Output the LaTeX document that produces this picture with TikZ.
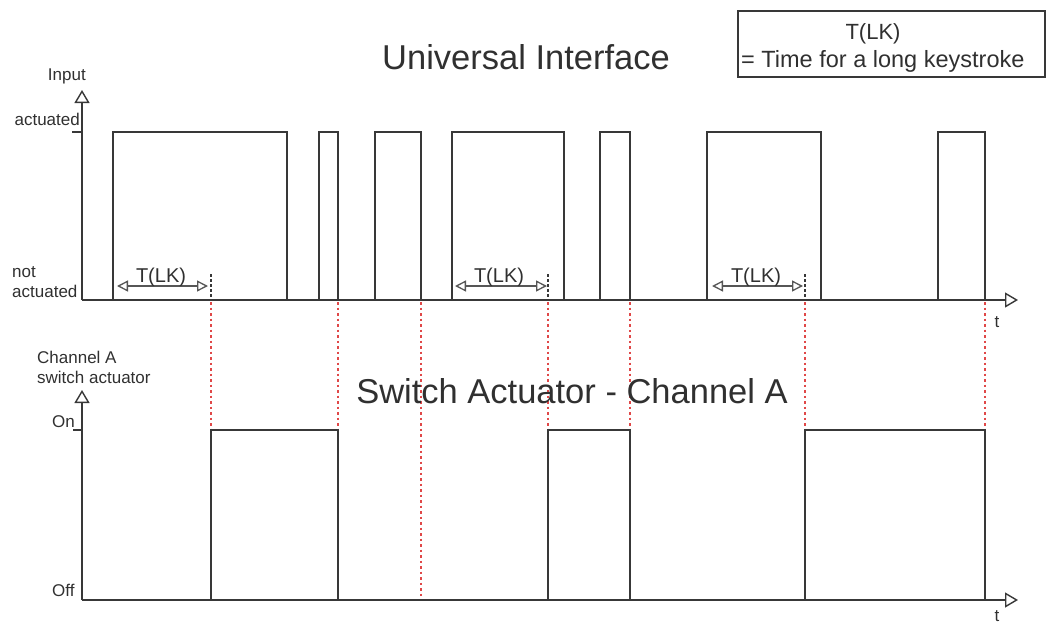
\documentclass[tikz,border=0pt]{standalone}
\usepackage{fontspec}
\setmainfont{Liberation Sans}
\usetikzlibrary{arrows.meta}
\definecolor{sigc}{HTML}{383838}
\definecolor{txtc}{HTML}{303030}
\definecolor{redc}{HTML}{E04848}
\begin{document}
\begin{tikzpicture}[x=1pt,y=-1pt,
  sig/.style={draw=sigc, line width=1.5pt, line join=miter},
  axisarrow/.style={draw=sigc, line width=1.5pt, -{Triangle[open,length=13pt,width=15pt,line width=1.4pt]}},
  tlkarrow/.style={draw=sigc!85, line width=1.3pt, {Triangle[open,length=11pt,width=11pt,line width=1.3pt]}-{Triangle[open,length=11pt,width=11pt,line width=1.3pt]}},
  reddot/.style={draw=redc, line width=1.3pt, dash pattern=on 2.5pt off 3pt},
  blackdot/.style={draw=sigc, line width=1.3pt, dash pattern=on 2.5pt off 2.5pt},
  lbl/.style={inner sep=0pt, text=txtc, font=\fontsize{17}{20}\selectfont},
  tlk/.style={inner sep=0pt, text=txtc, font=\fontsize{20}{24}\selectfont, anchor=base},
  title/.style={inner sep=0pt, text=txtc, font=\fontsize{34.5}{40}\selectfont, anchor=base},
  legbox/.style={draw=sigc, line width=1.2pt}
]
\useasboundingbox (0,0) rectangle (1046,626);

% red dotted guides
\foreach \x in {211,338,421,548,630,805,985}
  \draw[reddot] (\x,302) -- (\x,600);
% black dotted markers at T(LK) ends
\foreach \x in {211,548,805}
  \draw[blackdot] (\x,274) -- (\x,299);

% ---------- top diagram ----------
\draw[axisarrow] (82,300) -- (82,90);
\draw[axisarrow] (82,300) -- (1018,300);
\draw[sig] (72,132) -- (82,132);
\draw[sig] (113,300) -- (113,132) -- (287,132) -- (287,300)
  (319,300) -- (319,132) -- (338,132) -- (338,300)
  (375,300) -- (375,132) -- (421,132) -- (421,300)
  (452,300) -- (452,132) -- (564,132) -- (564,300)
  (600,300) -- (600,132) -- (630,132) -- (630,300)
  (707,300) -- (707,132) -- (821,132) -- (821,300)
  (938,300) -- (938,132) -- (985,132) -- (985,300);

\draw[tlkarrow] (117,286) -- (208,286);
\draw[tlkarrow] (455,286) -- (547,286);
\draw[tlkarrow] (712,286) -- (803,286);
\node[tlk] (tlk1) at (161,282) {T(LK)};
\node[tlk] (tlk2) at (499,282) {T(LK)};
\node[tlk] (tlk3) at (756,282) {T(LK)};

\node[lbl, anchor=base east] (input) at (86,80) {Input};
\node[lbl, anchor=base east] (act) at (80,125) {actuated};
\node[lbl, anchor=base west] (not) at (12,277) {not};
\node[lbl, anchor=base west] (notact) at (12,297) {actuated};
\node[lbl, anchor=base] (t1) at (997,327) {t};

\node[title] (ui) at (526,70) {Universal Interface};

% legend
\draw[legbox] (738,11) rectangle (1045,77);
\node[inner sep=0pt, text=txtc, font=\fontsize{22}{26}\selectfont, anchor=base] (leg1) at (873,40) {T(LK)};
\node[inner sep=0pt, text=txtc, font=\fontsize{23.5}{28}\selectfont, anchor=base west] (leg2) at (741,67) {= Time for a long keystroke};

% ---------- bottom diagram ----------
\draw[axisarrow] (82,600) -- (82,390);
\draw[axisarrow] (82,600) -- (1018,600);
\draw[sig] (73,430) -- (82,430);
\draw[sig] (211,600) -- (211,430) -- (338,430) -- (338,600)
  (548,600) -- (548,430) -- (630,430) -- (630,600)
  (805,600) -- (805,430) -- (985,430) -- (985,600);

\node[lbl, anchor=base west] (cha) at (37,363) {Channel A};
\node[lbl, anchor=base west] (swa) at (37,383) {switch actuator};
\node[lbl, anchor=base west] (on) at (52,427) {On};
\node[lbl, anchor=base west] (off) at (52,596) {Off};
\node[lbl, anchor=base] (t2) at (997,621) {t};

\node[title] (sa) at (572,403) {Switch Actuator - Channel A};
\end{tikzpicture}
\end{document}
